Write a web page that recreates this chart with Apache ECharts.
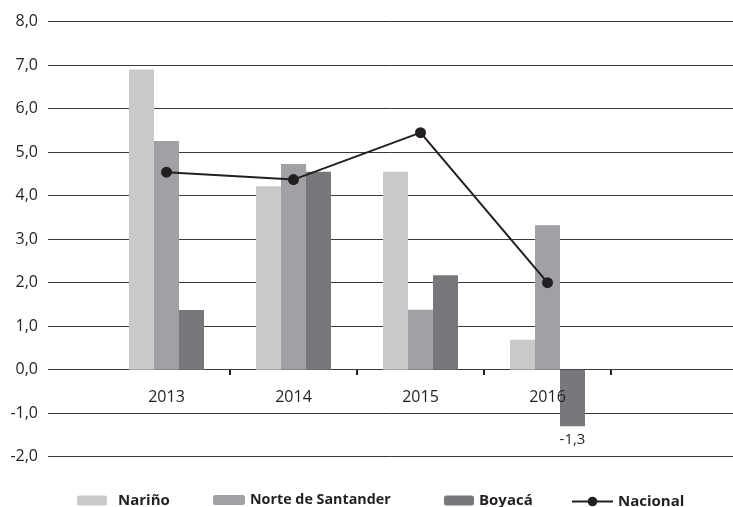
<!DOCTYPE html>
<html>
<head>
<meta charset="utf-8">
<script src="https://cdn.jsdelivr.net/npm/echarts@6/dist/echarts.min.js"></script>
<style>html,body{margin:0;padding:0;background:#fff}#c{width:733px;height:507px}</style>
</head>
<body>
<div id="c"></div>
<script>
var categories = ['2013', '2014', '2015', '2016', '', ''];
var narino = [6.9, 4.22, 4.55, 0.69];
var norteSantander = [5.26, 4.73, 1.38, 3.32];
var boyaca = [1.37, 4.55, 2.17, -1.3];
var nacional = [4.54, 4.37, 5.45, 2.0];
var yTicks = {min: -2, max: 8, interval: 1};

var FONT = '"Open Sans", "Noto Sans", sans-serif';
var INK = '#231f20';
function fmt(v) { return Number(v).toFixed(1).replace('.', ','); }

var chart = echarts.init(document.getElementById('c'), null, {renderer: 'canvas'});
var boyacaData = boyaca.map(function (v) {
  if (v < 0) {
    return {value: v, label: {show: true, position: 'bottom', distance: 6, color: INK,
      fontFamily: FONT, fontSize: 15, formatter: function (p) { return fmt(p.value); }}};
  }
  return v;
});
function legendBase(name, left, extra) {
  var o = {
    data: [name], left: left, top: 488, itemWidth: 30, itemHeight: 10,
    textStyle: {fontFamily: FONT, fontSize: 15, fontWeight: 'bold', color: INK},
    selectedMode: false
  };
  for (var k in extra) o[k] = extra[k];
  return o;
}
chart.setOption({
  animation: false,
  textStyle: {fontFamily: FONT},
  grid: [
    {left: 48, right: 0, top: 21.7, bottom: 50.3, outerBoundsMode: 'none'},
    {left: 103, right: -132, top: 21.7, bottom: 50.3, outerBoundsMode: 'none'}
  ],
  xAxis: [
    {gridIndex: 0, type: 'category', data: categories, show: false},
    {gridIndex: 1, type: 'category', data: categories, position: 'bottom', offset: -86.7, z: 4,
      axisLine: {show: false, onZero: false},
      axisTick: {show: true, length: 5, lineStyle: {color: INK, width: 2},
        interval: function (i) { return i >= 1 && i <= 4; }},
      axisLabel: {color: INK, fontFamily: FONT, fontSize: 16, margin: 19, interval: 0},
      splitLine: {show: false}}
  ],
  yAxis: [
    {gridIndex: 0, type: 'value', min: yTicks.min, max: yTicks.max, interval: yTicks.interval,
      axisLine: {show: false}, axisTick: {show: false},
      axisLabel: {color: INK, fontFamily: FONT, fontSize: 16, margin: 10, formatter: fmt},
      splitLine: {show: true, lineStyle: {color: '#3a3a3a', width: 1}}},
    {gridIndex: 1, type: 'value', min: yTicks.min, max: yTicks.max, interval: yTicks.interval, show: false,
      splitLine: {show: false}}
  ],
  legend: [
    legendBase('Nariño', 72, {textStyle: {fontFamily: FONT, fontSize: 15, fontWeight: 'bold', color: INK, padding: [0, 0, 0, 6]}}),
    legendBase('Norte de Santander', 208, {itemWidth: 32, textStyle: {fontFamily: FONT, fontSize: 14.3, fontWeight: 'bold', color: INK}}),
    legendBase('Boyacá', 439, {}),
    legendBase('Nacional', 566, {itemWidth: 41, itemHeight: 12, top: 489})
  ],
  series: [
    {name: 'Nariño', type: 'bar', xAxisIndex: 1, yAxisIndex: 1, data: narino,
      barWidth: 25, barGap: '0%', itemStyle: {color: '#c8c9cb'}},
    {name: 'Norte de Santander', type: 'bar', xAxisIndex: 1, yAxisIndex: 1, data: norteSantander,
      barWidth: 25, barGap: '0%', itemStyle: {color: '#a0a1a4'}},
    {name: 'Boyacá', type: 'bar', xAxisIndex: 1, yAxisIndex: 1, data: boyacaData,
      barWidth: 25, barGap: '0%', itemStyle: {color: '#77787b'}},
    {name: 'Nacional', type: 'line', xAxisIndex: 1, yAxisIndex: 1, data: nacional,
      symbol: 'circle', symbolSize: 11, z: 5,
      lineStyle: {color: INK, width: 2}, itemStyle: {color: INK}}
  ]
});
</script>
</body>
</html>
